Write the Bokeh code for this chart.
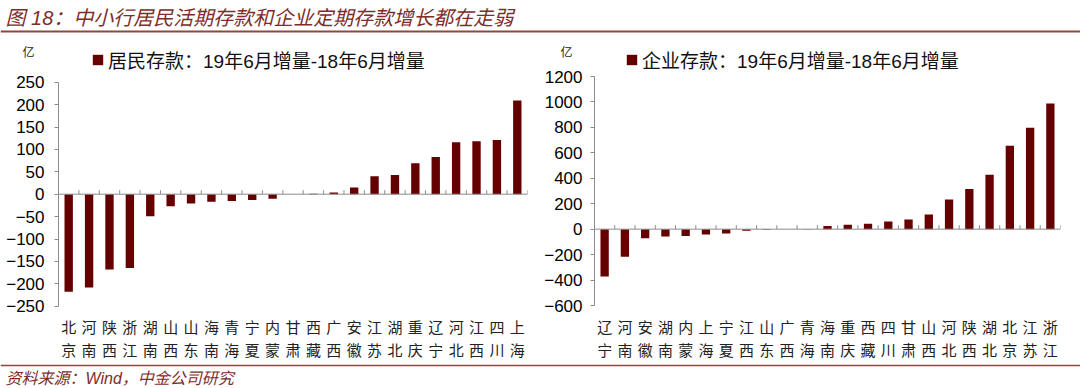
from bokeh.plotting import figure
from bokeh.layouts import column, row
from bokeh.models import Range1d, FactorRange, Span, Legend, LegendItem, FixedTicker, LinearAxis
from bokeh.core.properties import value
from bokeh.embed import file_html
from bokeh.resources import INLINE

# ---------------- data ----------------
title_text = "图 18：中小行居民活期存款和企业定期存款增长都在走弱"
source_text = "资料来源：Wind，中金公司研究"
unit_label = "亿"

res_legend = "居民存款：19年6月增量-18年6月增量"
res_cats = ["北京", "河南", "陕西", "浙江", "湖南", "山西", "山东", "海南", "青海", "宁夏", "内蒙",
            "甘肃", "西藏", "广西", "安徽", "江苏", "湖北", "重庆", "辽宁", "河北", "江西", "四川", "上海"]
res_vals = [-218, -208, -168, -165, -49, -27, -21, -17, -15, -13, -10,
            0, 1, 4, 15, 40, 43, 69, 83, 116, 118, 121, 209]
res_ticks = [-250, -200, -150, -100, -50, 0, 50, 100, 150, 200, 250]

ent_legend = "企业存款：19年6月增量-18年6月增量"
ent_cats = ["辽宁", "河南", "安徽", "湖南", "内蒙", "上海", "宁夏", "江西", "山东", "广西", "青海",
            "海南", "重庆", "西藏", "四川", "甘肃", "山西", "河北", "陕西", "湖北", "北京", "江苏", "浙江"]
ent_vals = [-372, -217, -72, -57, -54, -42, -34, -12, -5, 0, 2,
            24, 34, 42, 60, 76, 116, 233, 315, 428, 655, 797, 988]
ent_ticks = [-600, -400, -200, 0, 200, 400, 600, 800, 1000, 1200]

# ---------------- style / layout (screen pixels) ----------------
BAR = "#650000"
AXIS_GRAY = "#8c8c8c"
TITLE_RED = "#7e2d2a"
LINE_BROWN = "#8a4a3c"
FONT_MIX = "'Liberation Sans', 'Noto Sans CJK SC'"
FONT_CJK = "'Noto Sans CJK SC'"
W = 1080
ROW_TOP, ROW_BOT, PAGE_BOT = 38, 360, 388
LABEL_Y1, LABEL_Y2 = 326, 349
UNIT_Y = 51


def make_chart(cats, vals, ticks, legend_label, width, bl, br, top_px, bot_px,
               legend_x, legend_center_y, standoff, unit_standoff):
    height = ROW_BOT - ROW_TOP
    scale = (bot_px - top_px) / (ticks[-1] - ticks[0])      # pixels per unit
    y_end = ticks[-1] + (top_px - ROW_TOP) / scale
    y_start = ticks[0] - (ROW_BOT - bot_px) / scale
    p = figure(width=width, height=height, title=None,
               x_range=FactorRange(factors=cats, range_padding=0),
               y_range=Range1d(y_start, y_end), x_axis_location=None,
               output_backend="svg", toolbar_location=None,
               min_border_left=bl, min_border_right=br, min_border_top=0, min_border_bottom=0)
    p.outline_line_color = None
    p.xgrid.visible = False
    p.ygrid.visible = False

    r = p.vbar(x=cats, top=vals, width=0.41, fill_color=BAR, line_color=None)

    n = len(cats)
    tick_len = 4 / scale
    p.segment(x0=[0], y0=[0], x1=[n], y1=[0], line_color=AXIS_GRAY, line_width=1)
    bounds = list(range(1, n + 1))
    p.segment(x0=bounds, y0=[0] * n, x1=bounds, y1=[tick_len] * n,
              line_color=AXIS_GRAY, line_width=1)

    # two-line category labels under the plot
    y1 = ticks[0] - (LABEL_Y1 - bot_px) / scale
    y2 = ticks[0] - (LABEL_Y2 - bot_px) / scale
    for yy, part in ((y1, [c[0] for c in cats]), (y2, [c[1] for c in cats])):
        p.text(x=cats, y=[yy] * n, text=part, text_align="center", text_baseline="middle",
               text_font=value(FONT_CJK), text_font_size="15px", text_color="#222222")

    ya = p.yaxis[0]
    ya.ticker = FixedTicker(ticks=ticks)
    ya.bounds = (ticks[0], ticks[-1])
    ya.axis_line_color = AXIS_GRAY
    ya.major_tick_line_color = AXIS_GRAY
    ya.major_tick_out = 4
    ya.major_tick_in = 0
    ya.minor_tick_line_color = None
    ya.major_label_text_font = FONT_MIX
    ya.major_label_text_font_size = "17px"
    ya.major_label_text_color = "#000000"
    ya.major_label_standoff = standoff

    # unit label "亿" above the axis, as the single label of an outer axis
    unit_val = round(ticks[-1] + (top_px - UNIT_Y) / scale)
    ua = LinearAxis(ticker=FixedTicker(ticks=[unit_val]),
                    major_label_overrides={unit_val: unit_label},
                    axis_line_color=None, major_tick_line_color=None, minor_tick_line_color=None,
                    major_tick_out=0, major_tick_in=0, minor_tick_out=0, minor_tick_in=0,
                    major_label_standoff=unit_standoff, major_label_text_font=FONT_CJK,
                    major_label_text_font_size="12px", major_label_text_color="#222222")
    p.add_layout(ua, "left")

    legend = Legend(items=[LegendItem(label=legend_label, renderers=[r])],
                    location=(legend_x, (ROW_BOT - legend_center_y) - 11),
                    glyph_width=13, glyph_height=13,
                    label_standoff=4, padding=0, margin=0, spacing=0,
                    border_line_color=None, background_fill_alpha=0,
                    label_text_font=FONT_MIX, label_text_font_size="19px",
                    label_text_color="#111111", label_height=13)
    p.add_layout(legend)
    return p


left = make_chart(res_cats, res_vals, res_ticks, res_legend, 540, 58, 13, 81.7, 305.7,
                  33, 62, 10, -31)
right = make_chart(ent_cats, ent_vals, ent_ticks, ent_legend, 540, 54, 20, 76, 305,
                   31, 62, 8, -31)

# header: title and rule
hdr = figure(width=W, height=ROW_TOP, title=None,
             x_range=Range1d(0, W), y_range=Range1d(ROW_TOP, 0),
             x_axis_type=None, y_axis_type=None, output_backend="svg", toolbar_location=None,
             min_border=0)
hdr.outline_line_color = None
hdr.grid.visible = False
hdr.text(x=[5], y=[17], text=[title_text], text_font=value(FONT_MIX), text_font_style="italic",
         text_font_size="20px", text_color=TITLE_RED, text_baseline="middle", text_align="left")
hdr.add_layout(Span(location=31, dimension="width", line_color=LINE_BROWN, line_width=2))

# footer
ftr = figure(width=W, height=PAGE_BOT - ROW_BOT, title=None,
             x_range=Range1d(0, W), y_range=Range1d(PAGE_BOT, ROW_BOT),
             x_axis_type=None, y_axis_type=None, output_backend="svg", toolbar_location=None,
             min_border=0)
ftr.outline_line_color = None
ftr.grid.visible = False
ftr.add_layout(Span(location=365, dimension="width", line_color=LINE_BROWN, line_width=1.5))
ftr.text(x=[5], y=[378], text=[source_text], text_font=value(FONT_MIX), text_font_style="italic",
         text_font_size="16px", text_color=TITLE_RED, text_baseline="middle", text_align="left")

page = column(hdr, row(left, right), ftr)
open("out.html", "w").write(file_html(page, INLINE))
